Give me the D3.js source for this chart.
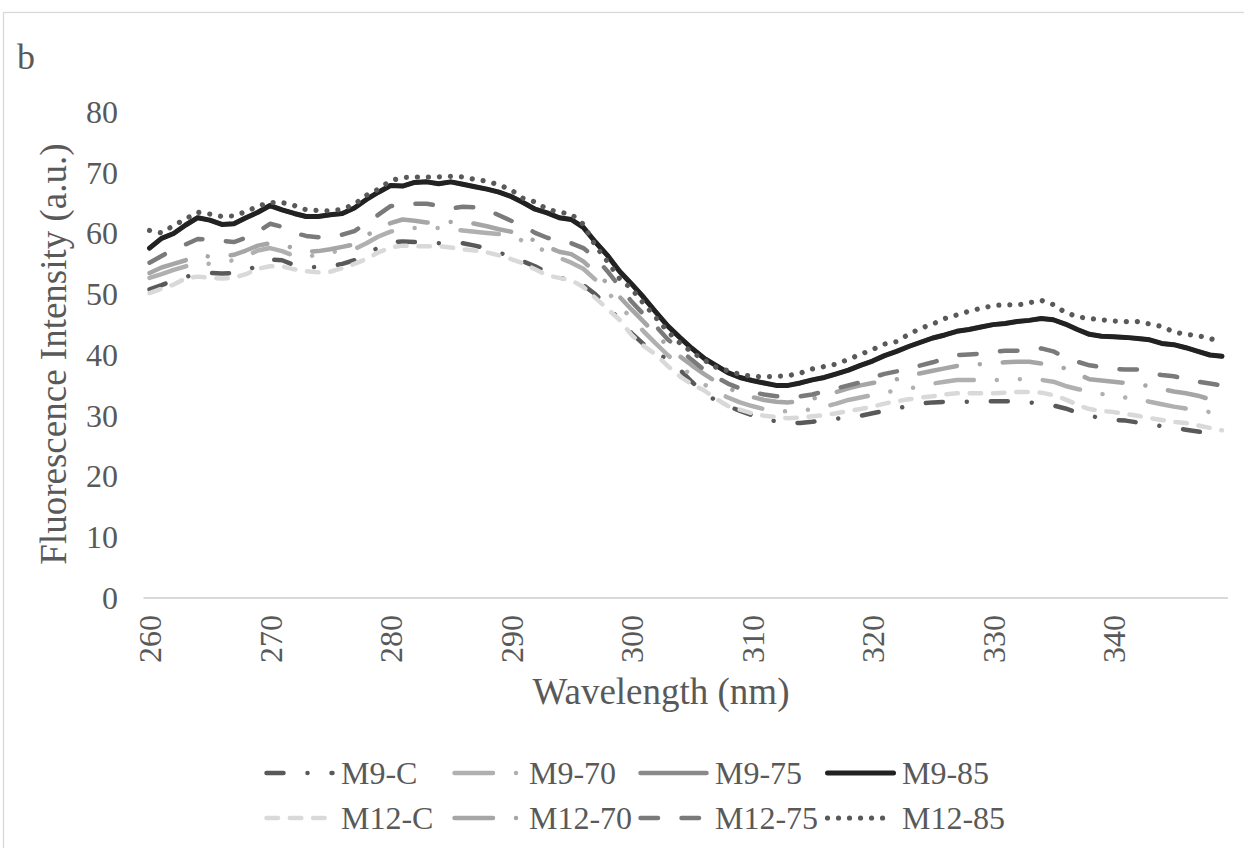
<!DOCTYPE html>
<html>
<head>
<meta charset="utf-8">
<script src="https://cdn.jsdelivr.net/npm/d3@7"></script>
<style>
  html, body { margin: 0; padding: 0; background: #ffffff; }
  svg { display: block; }
  text { font-family: "Liberation Serif", "Times New Roman", serif; fill: #595959; }
</style>
</head>
<body>
<svg id="chart" width="1244" height="848"></svg>
<script>
// Wavelength categories (nm), one reading per nm
const wavelengths = d3.range(260, 350);
const xTickLabels = [260, 270, 280, 290, 300, 310, 320, 330, 340];
const yTickLabels = [0, 10, 20, 30, 40, 50, 60, 70, 80];

// Fluorescence intensity (a.u.) for each sample
const m9C = [50.8,51.5,52.3,52.9,53.2,53.5,53.4,53.5,53.8,54.8,55.7,55.6,54.8,54.4,54.5,54.6,55.0,55.6,56.6,57.7,
  58.6,58.7,58.6,58.5,58.4,58.5,58.4,58.0,57.5,56.9,56.1,55.4,54.6,53.6,52.8,52.2,51.5,50.0,48.1,45.8,
  43.6,41.8,40.4,39.3,37.6,35.6,33.8,32.5,31.6,30.8,30.1,29.4,29.1,28.9,28.8,29.0,29.3,29.5,29.8,30.0,
  30.4,30.8,31.2,31.6,32.0,32.2,32.3,32.3,32.3,32.4,32.4,32.4,32.3,32.2,32.0,31.7,31.2,30.5,30.0,29.6,
  29.3,29.2,28.9,28.6,28.3,28.0,27.7,27.4,27.1,26.7];
const m970 = [52.7,53.3,54.0,54.6,55.2,55.0,55.3,55.6,56.3,57.2,57.6,57.1,56.3,56.1,56.6,56.9,57.2,57.4,58.4,59.5,
  60.3,60.8,60.9,60.9,60.9,60.7,60.5,60.3,60.1,59.9,59.5,58.8,57.8,57.0,56.0,55.2,54.2,52.4,50.4,48.2,
  46.0,43.9,41.9,40.0,38.2,36.6,35.2,34.0,33.0,32.2,31.6,31.1,30.8,30.7,30.8,31.1,31.5,32.0,32.6,33.0,
  33.4,33.8,34.2,34.5,34.8,35.3,35.6,35.9,35.9,35.9,35.9,35.9,36.0,36.1,35.9,35.6,34.9,34.4,34.0,33.6,
  33.2,33.0,32.8,32.3,31.9,31.5,31.2,30.9,30.6,30.4];
const m975 = [57.6,59.2,60.0,61.4,62.6,62.2,61.5,61.6,62.6,63.5,64.6,63.9,63.3,62.8,62.8,63.1,63.3,64.2,65.6,66.8,
  67.9,67.8,68.4,68.5,68.2,68.5,68.1,67.7,67.3,66.8,66.1,65.1,64.0,63.4,62.6,62.3,61.0,58.6,56.4,53.8,
  51.7,49.5,47.1,44.8,42.9,41.1,39.5,38.3,37.1,36.3,35.8,35.4,35.0,35.0,35.4,35.9,36.3,36.9,37.5,38.3,
  39.0,39.9,40.6,41.4,42.1,42.8,43.3,43.9,44.2,44.6,45.0,45.2,45.5,45.7,46.0,45.8,45.1,44.2,43.4,43.1,
  43.0,42.9,42.7,42.5,41.9,41.7,41.2,40.6,40.0,39.8];
const m985 = [57.6,59.2,60.0,61.4,62.6,62.2,61.5,61.6,62.6,63.5,64.6,63.9,63.3,62.8,62.8,63.1,63.3,64.2,65.6,66.8,
  67.9,67.8,68.4,68.5,68.2,68.5,68.1,67.7,67.3,66.8,66.1,65.1,64.0,63.4,62.6,62.3,61.0,58.6,56.4,53.8,
  51.7,49.5,47.1,44.8,42.9,41.1,39.5,38.3,37.1,36.3,35.8,35.4,35.0,35.0,35.4,35.9,36.3,36.9,37.5,38.3,
  39.0,39.9,40.6,41.4,42.1,42.8,43.3,43.9,44.2,44.6,45.0,45.2,45.5,45.7,46.0,45.8,45.1,44.2,43.4,43.1,
  43.0,42.9,42.7,42.5,41.9,41.7,41.2,40.6,40.0,39.8];
const m12C = [50.2,50.9,51.6,52.6,52.9,52.7,52.6,52.7,53.3,54.2,54.6,54.6,54.1,53.8,53.6,53.7,54.3,55.0,55.8,56.9,
  57.7,58.0,57.9,57.9,57.9,57.7,57.4,57.2,56.9,56.4,55.8,55.1,54.1,53.1,52.7,52.3,51.2,49.4,47.6,45.8,
  43.3,41.5,40.1,38.2,36.5,35.2,34.2,32.8,31.6,31.0,30.4,30.0,29.8,29.6,29.7,29.9,30.1,30.4,30.8,31.1,
  31.5,32.0,32.4,32.7,33.0,33.2,33.5,33.7,33.7,33.7,33.7,33.8,33.9,33.9,33.8,33.4,32.7,31.8,31.1,30.8,
  30.6,30.3,30.0,29.6,29.3,29.0,28.8,28.4,28.0,27.6];
const m1270 = [53.5,54.4,55.0,55.6,56.4,56.2,56.2,56.5,57.2,58.0,58.4,58.1,57.6,57.0,57.1,57.4,57.8,58.2,59.6,61.0,
  61.7,62.3,62.1,61.8,61.8,61.9,62.0,61.6,61.2,60.7,60.3,59.6,58.8,57.8,57.0,56.6,55.4,53.6,51.8,49.6,
  47.5,45.5,43.4,41.5,39.8,38.3,36.9,35.6,34.6,33.7,33.1,32.6,32.3,32.2,32.4,32.8,33.3,33.9,34.5,35.0,
  35.4,35.7,36.0,36.6,37.0,37.4,37.8,38.2,38.4,38.5,38.6,38.8,38.9,38.9,38.6,38.2,37.8,36.9,36.0,35.8,
  35.6,35.4,35.1,34.9,34.4,34.0,33.7,33.3,32.7,32.1];
const m1275 = [55.2,56.3,57.4,58.2,59.1,59.0,58.8,58.6,59.3,60.3,61.6,61.1,60.1,59.6,59.4,59.5,59.8,60.4,61.7,63.1,
  64.5,64.8,64.9,64.9,64.6,64.1,64.4,64.3,63.9,63.0,62.1,61.3,60.1,59.3,58.7,58.4,57.6,56.0,53.8,51.3,
  48.8,46.7,44.8,42.6,40.9,39.2,37.6,36.4,35.3,34.5,33.9,33.5,33.2,33.2,33.2,33.5,34.0,34.5,35.0,35.5,
  36.3,36.9,37.3,37.8,38.3,38.8,39.4,40.0,40.1,40.2,40.5,40.7,40.7,40.8,41.1,40.6,39.6,38.9,38.3,38.0,
  37.7,37.6,37.6,37.0,36.7,36.5,36.1,35.6,35.3,35.0];
const m1285 = [60.5,60.1,61.3,62.4,63.5,63.2,62.8,62.9,63.6,64.5,65.1,65.1,64.6,63.9,63.8,63.7,64.0,64.8,66.3,67.3,
  68.7,69.2,69.3,69.3,69.3,69.4,69.3,68.9,68.6,68.0,67.2,65.8,65.2,64.0,63.5,63.2,61.5,58.0,55.4,52.6,
  50.9,48.5,46.2,43.9,42.0,40.5,39.2,38.0,37.4,36.8,36.5,36.4,36.5,36.6,37.0,37.7,38.1,38.5,39.3,40.1,
  40.9,41.8,42.2,43.4,44.4,45.1,46.0,46.6,47.2,47.7,48.1,48.3,48.2,48.6,49.0,48.3,47.0,46.3,46.0,45.8,
  45.6,45.5,45.5,45.1,44.7,43.8,43.4,43.2,42.7,42.2];

const seriesNames = ["M9-C", "M9-70", "M9-75", "M9-85", "M12-C", "M12-70", "M12-75", "M12-85"];
const seriesValues = [m9C, m970, m975, m985, m12C, m1270, m1275, m1285];

// Line styling per series: colour, width, dash pattern
const styles = [
  { color: "#595959", width: 4.5, dash: "17 24 0.01 24" },
  { color: "#b0b0b0", width: 4.5, dash: "38.5 23 0.01 23 0.01 23" },
  { color: "#8a8a8a", width: 4.5, dash: null },
  { color: "#222222", width: 5, dash: null },
  { color: "#d9d9d9", width: 4.5, dash: "11.5 11.8" },
  { color: "#a6a6a6", width: 4.5, dash: "38.5 23 0.01 23" },
  { color: "#7a7a7a", width: 4.5, dash: "17.5 23.5" },
  { color: "#595959", width: 5.2, dash: "0.01 11" }
];

const svg = d3.select("#chart");

// Chart area border
svg.append("rect")
  .attr("x", 3.5).attr("y", 12.5)
  .attr("width", 1260).attr("height", 860)
  .attr("fill", "none").attr("stroke", "#d9d9d9").attr("stroke-width", 1.3);

// Panel letter
svg.append("text")
  .attr("x", 17).attr("y", 69)
  .style("font-size", "36px")
  .text("b");

const plotLeft = 143.5, plotRight = 1228, plotTop = 112, plotBottom = 598;

const x = d3.scalePoint()
  .domain(wavelengths)
  .range([plotLeft, plotRight])
  .padding(0.5);

const y = d3.scaleLinear()
  .domain([0, 80])
  .range([plotBottom, plotTop]);

// Y axis labels (no axis line, no gridlines)
const yAxis = d3.axisLeft(y).tickValues(yTickLabels).tickSize(0).tickPadding(0);
const yg = svg.append("g").attr("transform", `translate(118,0)`).call(yAxis);
yg.select(".domain").remove();
yg.selectAll("text")
  .style("font-family", '"Liberation Serif", "Times New Roman", serif')
  .style("font-size", "32px")
  .attr("fill", "#595959");

// X axis baseline and rotated category labels
const xAxis = d3.axisBottom(x).tickValues(xTickLabels).tickSize(0).tickPadding(0);
const xg = svg.append("g").attr("transform", `translate(0,${plotBottom})`).call(xAxis);
xg.select(".domain")
  .attr("d", `M${plotLeft},0H${plotRight}`)
  .attr("stroke", "#d9d9d9").attr("stroke-width", 1.8);
xg.selectAll("text")
  .style("font-family", '"Liberation Serif", "Times New Roman", serif')
  .style("font-size", "32px")
  .attr("fill", "#595959")
  .attr("text-anchor", "end")
  .attr("dy", null)
  .attr("dominant-baseline", "central")
  .attr("transform", "translate(0,17) rotate(-90)")
  .attr("y", 0).attr("x", 0);

// Axis titles
svg.append("text")
  .attr("transform", "translate(66,354) rotate(-90)")
  .attr("text-anchor", "middle")
  .style("font-size", "37px")
  .text("Fluorescence Intensity (a.u.)");

svg.append("text")
  .attr("x", 661).attr("y", 704)
  .attr("text-anchor", "middle")
  .style("font-size", "37px")
  .text("Wavelength (nm)");

// Spectra
const line = d3.line()
  .x((d, i) => x(wavelengths[i]))
  .y(d => y(d));

const series = seriesNames.map((name, i) => ({ name, values: seriesValues[i], style: styles[i] }));

svg.append("g").selectAll("path")
  .data(series)
  .join("path")
  .attr("d", d => line(d.values))
  .attr("fill", "none")
  .attr("stroke", d => d.style.color)
  .attr("stroke-width", d => d.style.width)
  .attr("stroke-dasharray", d => d.style.dash)
  .attr("stroke-linecap", "round")
  .attr("stroke-linejoin", "round");

// Legend: two rows of four entries
const legendCols = [264, 452, 638, 825];
const legendRows = [773, 818];
const legend = svg.append("g").selectAll("g")
  .data(series)
  .join("g")
  .attr("transform", (d, i) => `translate(${legendCols[i % 4]},${legendRows[Math.floor(i / 4)]})`);

legend.append("line")
  .attr("x1", 2.5).attr("x2", 68.5)
  .attr("y1", 0).attr("y2", 0)
  .attr("stroke", d => d.style.color)
  .attr("stroke-width", d => d.style.width)
  .attr("stroke-dasharray", d => d.style.dash)
  .attr("stroke-linecap", "round");

legend.append("text")
  .attr("x", 77).attr("y", 11)
  .style("font-size", "32px")
  .text(d => d.name);
</script>
</body>
</html>
